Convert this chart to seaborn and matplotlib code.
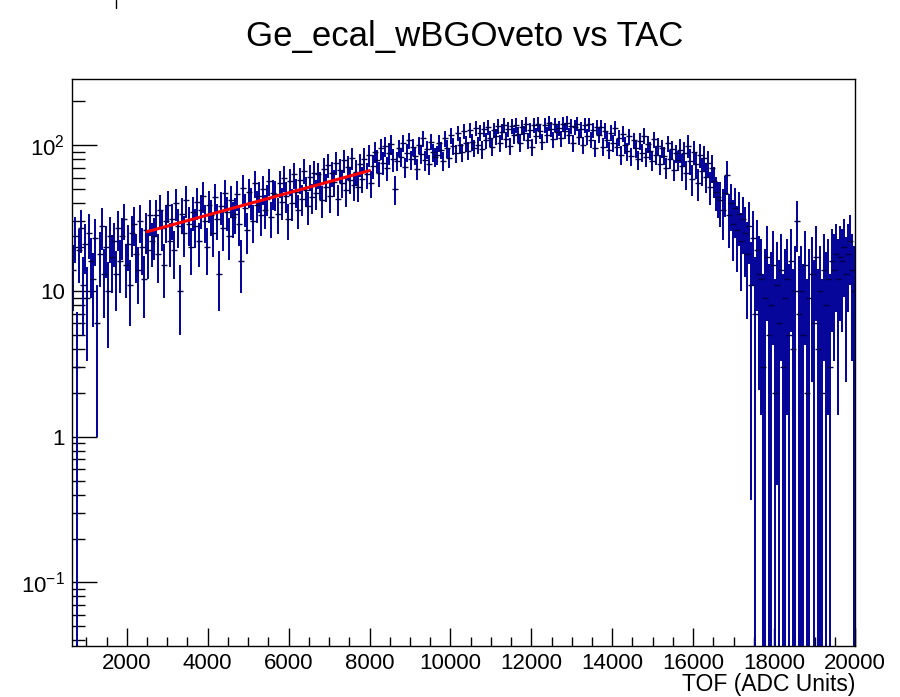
import numpy as np
import pandas as pd
import matplotlib
matplotlib.use("Agg")
import matplotlib.pyplot as plt
import seaborn as sns
from matplotlib.ticker import FixedLocator, FixedFormatter, MultipleLocator, LogLocator, NullFormatter
from matplotlib.lines import Line2D

# ---------------- data ----------------
title = "Ge_ecal_wBGOveto vs TAC"
xlabel = "TOF (ADC Units)"

bin_start = 650
bin_width = 50

counts_00650 = [14, 24, 3, 19, 27, 11, 21, 9, 25, 16, 12, 23, 6, 18, 28, 13, 20, 10, 24, 17]
counts_01650 = [22, 13, 27, 16, 24, 31, 15, 21, 11, 25, 29, 18, 14, 30, 20, 12, 26, 19, 33, 22]
counts_02650 = [24, 33, 18, 36, 27, 15, 30, 39, 22, 31, 19, 40, 28, 10, 34, 25, 42, 29, 20, 35]
counts_03650 = [28, 41, 22, 36, 45, 30, 20, 39, 33, 25, 44, 31, 13, 38, 27, 47, 35, 24, 42, 32]
counts_04650 = [34, 46, 29, 16, 51, 37, 26, 48, 41, 30, 55, 39, 45, 33, 50, 36, 43, 57, 32, 47]
counts_05650 = [46, 34, 55, 41, 60, 45, 31, 57, 40, 63, 48, 36, 58, 43, 67, 49, 38, 61, 44, 65]
counts_06650 = [47, 63, 54, 42, 69, 52, 73, 45, 64, 56, 76, 43, 68, 55, 79, 49, 71, 58, 82, 53]
counts_07650 = [66, 52, 74, 59, 81, 63, 86, 55, 72, 90, 79, 64, 95, 76, 99, 70, 88, 102, 80, 50]
counts_08650 = [78, 96, 83, 104, 71, 89, 108, 80, 97, 85, 69, 101, 87, 112, 79, 94, 74, 106, 90, 83]
counts_09650 = [86, 104, 93, 78, 112, 95, 82, 117, 99, 88, 121, 101, 90, 125, 103, 92, 128, 105, 96, 131]
counts_10650 = [100, 122, 94, 130, 108, 134, 112, 98, 128, 115, 136, 104, 124, 138, 110, 130, 99, 135, 117, 137]
counts_11650 = [119, 104, 134, 121, 140, 108, 128, 97, 137, 116, 141, 125, 106, 138, 118, 142, 130, 110, 139, 123]
counts_12650 = [131, 112, 140, 126, 143, 117, 136, 104, 133, 141, 114, 129, 101, 138, 115, 139, 109, 127, 96, 134]
counts_13650 = [118, 134, 98, 126, 109, 93, 122, 104, 131, 97, 113, 86, 120, 100, 91, 115, 84, 108, 95, 80]
counts_14650 = [107, 89, 116, 83, 102, 92, 78, 110, 86, 99, 74, 95, 85, 70, 103, 81, 94, 68, 88, 79]
counts_15650 = [93, 72, 88, 64, 99, 78, 59, 90, 74, 55, 86, 67, 82, 61, 76, 52, 70, 57, 48, 44]
counts_16650 = [42, 36, 47, 62, 33, 40, 29, 37, 26, 34, 22, 31, 25, 18, 28, 11, 23, 7, 19, 13]
counts_17650 = [12, 3, 9, 17, 5, 8, 15, 2, 11, 6, 14, 3, 9, 12, 5, 16, 4, 10, 30, 7]
counts_18650 = [10, 5, 15, 2, 9, 13, 6, 17, 4, 10, 2, 14, 8, 12, 3, 16, 14, 18, 12, 17]
counts_19650 = [16, 20, 13, 18, 22, 14, 10]

segments = [counts_00650, counts_01650, counts_02650, counts_03650, counts_04650,
            counts_05650, counts_06650, counts_07650, counts_08650, counts_09650,
            counts_10650, counts_11650, counts_12650, counts_13650, counts_14650,
            counts_15650, counts_16650, counts_17650, counts_18650, counts_19650]

# error model per 1000-unit segment (read from the error-bar lengths):
# err^2 = weight * counts + extra variance
err_weight_seg = [2.5, 2.5, 2.5, 2.5, 2.5, 2.5, 2.5, 2.5, 1.8, 1.8,
                  1.8, 1.8, 1.8, 1.8, 1.8, 3.0, 3.0, 1.0, 1.0, 1.0]
bkg_var_seg = [10, 0, 0, 0, 0, 0, 0, 0, 0, 0, 0, 0, 0, 0, 0, 20, 80, 100, 100, 100]

fit_tof = [2500, 8000]
fit_counts = [25.5, 67.0]

x_ticks = [2000, 4000, 6000, 8000, 10000, 12000, 14000, 16000, 18000, 20000]
x_tick_labels = ["2000", "4000", "6000", "8000", "10000", "12000", "14000", "16000", "18000", "20000"]
y_ticks = [0.1, 1, 10, 100]
y_tick_labels = [r"$10^{-1}$", "1", "10", r"$10^{2}$"]

# ---------------- build table ----------------
counts = np.concatenate([np.asarray(s, float) for s in segments])
wts = np.concatenate([np.full(len(s), w, float) for s, w in zip(segments, err_weight_seg)])
bkg = np.concatenate([np.full(len(s), b, float) for s, b in zip(segments, bkg_var_seg)])
errs = np.sqrt(wts * counts + bkg)
tof = bin_start + bin_width * (np.arange(len(counts)) + 0.5)
df = pd.DataFrame({"tof": tof, "counts": counts,
                   "lo": np.clip(counts - errs, 1e-4, None),
                   "hi": counts + errs})

# ---------------- style ----------------
sns.set_theme(style="ticks")
plt.rcParams["font.family"] = ["Liberation Sans", "DejaVu Sans"]
plt.rcParams["mathtext.fontset"] = "custom"
plt.rcParams["mathtext.rm"] = "Liberation Sans"
plt.rcParams["mathtext.it"] = "Liberation Sans:italic"
plt.rcParams["mathtext.default"] = "regular"

fig = plt.figure(figsize=(9, 6.97), dpi=100)
fig.patch.set_facecolor("white")
ax = fig.add_axes([0.08, 0.0732, 0.87, 0.8135])
ax.set_facecolor("white")
ax.set_yscale("log")

ax.vlines(df["tof"], df["lo"], df["hi"], colors="#000099", linewidth=1.4)
sns.scatterplot(data=df, x="tof", y="counts", marker="_", s=14, color="#000044",
                linewidth=1.0, ax=ax, legend=False, zorder=3)
sns.lineplot(x=fit_tof, y=fit_counts, color="#ff0000", linewidth=2.2, ax=ax, zorder=4)

ax.set_xlim(645, 20000)
ax.set_ylim(0.0366, 285)

ax.xaxis.set_major_locator(FixedLocator(x_ticks))
ax.xaxis.set_major_formatter(FixedFormatter(x_tick_labels))
ax.xaxis.set_minor_locator(MultipleLocator(500))
ax.yaxis.set_major_locator(FixedLocator(y_ticks))
ax.yaxis.set_major_formatter(FixedFormatter(y_tick_labels))
ax.yaxis.set_minor_locator(LogLocator(base=10, subs=np.arange(2, 10)))
ax.yaxis.set_minor_formatter(NullFormatter())

ax.tick_params(axis="both", which="both", direction="in", top=False, right=False,
               width=1, color="black", labelcolor="black")
ax.tick_params(axis="x", which="major", length=13, labelsize=16, pad=5)
ax.tick_params(axis="x", which="minor", length=6.5)
ax.tick_params(axis="y", which="major", length=18, labelsize=16, pad=5)
ax.tick_params(axis="y", which="minor", length=9.5)
for sp in ax.spines.values():
    sp.set_color("black")
    sp.set_linewidth(1.0)
ax.grid(False)

ax.set_ylabel("")
ax.set_xlabel(xlabel, fontsize=16.5, color="black")
ax.xaxis.set_label_coords(1.0, -0.047)
ax.xaxis.label.set_ha("right")
ax.xaxis.label.set_va("top")

fig.text(465 / 900, 1 - 46 / 697, title, ha="center", va="baseline", fontsize=25, color="black")
fig.add_artist(Line2D([115.5 / 900, 115.5 / 900], [1.0, 1 - 8 / 697], color="black", linewidth=1.0))

fig.savefig("out.png", dpi=100, facecolor="white")
